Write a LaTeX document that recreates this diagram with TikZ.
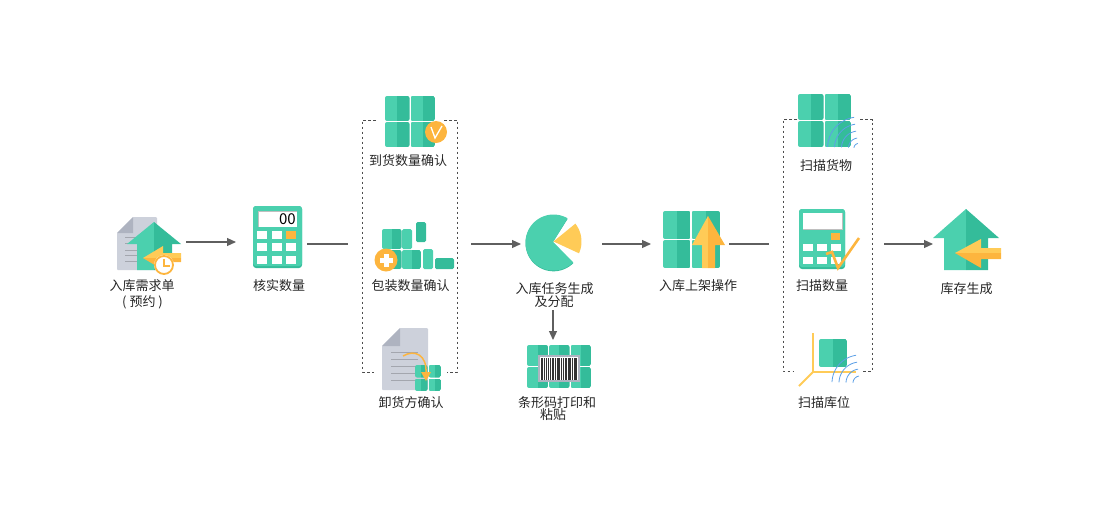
\documentclass[tikz,border=0pt]{standalone}
\usepackage{fontspec}
\setmainfont{Noto Sans CJK SC}
\usetikzlibrary{arrows.meta}
\definecolor{gl}{HTML}{4BD0AE}
\definecolor{gd}{HTML}{34BC9A}
\definecolor{yl}{HTML}{FFCB57}
\definecolor{yd}{HTML}{FDB53E}
\definecolor{docg}{HTML}{CDD1DB}
\definecolor{foldg}{HTML}{AEB3C0}
\definecolor{lineg}{HTML}{A3A6AE}
\definecolor{wave}{HTML}{5C9FE6}
\definecolor{txt}{HTML}{262626}
\definecolor{cline}{HTML}{5F5F5F}
\tikzset{
  lab/.style={font=\fontsize{13}{13}\selectfont,text=txt,inner sep=0pt},
  conn/.style={draw=cline,line width=1.2pt},
  arr/.style={conn,-{Triangle[length=9pt,width=8pt]}},
  dashbox/.style={draw=black!70,line width=0.9pt,dash pattern=on 2.6pt off 2.4pt},
  wv/.style={draw=wave,line width=0.8pt},
  dl/.style={draw=lineg,line width=1pt},
}
\newcommand{\tcell}[4]{%
  \begin{scope}
    \clip[rounded corners=2pt] (#1,#2) rectangle (#3,#4);
    \fill[gl] (#1,#2) rectangle ({(#1+#3)/2},#4);
    \fill[gd] ({(#1+#3)/2},#2) rectangle (#3,#4);
  \end{scope}}
\newcommand{\waves}[5]{% cx cy angle-from angle-to list
  \foreach \rr in {#5}{\draw[wv] plot[domain=#3:#4,samples=16,smooth] ({#1+\rr*cos(\x)},{#2+\rr*sin(\x)});}}
\begin{document}
\begin{tikzpicture}[x=1pt,y=-1pt]
\useasboundingbox (0,0) rectangle (1112,515);
% ---- request icon
\fill[docg,rounded corners=1pt] (133,217)--(157,217)--(157,270)--(117,270)--(117,233)--cycle;
\fill[foldg] (117,233)--(133,217)--(133,233)--cycle;
\foreach \yy in {237,243,250,255,261}{\draw[dl] (125,\yy)--(138,\yy);}
\fill[gl] (154,222)--(127,244)--(137,244)--(137,270)--(154,270)--cycle;
\fill[gd] (154,222)--(181,244)--(172,244)--(172,270)--(154,270)--cycle;
\fill[yl] (143,258)--(163,246)--(163,253)--(181,253)--(181,258)--cycle;
\fill[yd] (143,258)--(163,270)--(163,262)--(181,262)--(181,258)--cycle;
\fill[white] (164,265) circle (10);
\draw[yd,line width=1.8pt] (164,265) circle (9);
\draw[yd,line width=1.2pt] (164,259)--(164,266)--(170,266);
% ---- calculator
\fill[gd,rounded corners=3pt] (253,206) rectangle (302,268);
\fill[gl,rounded corners=3pt] (253,206) rectangle (302,266);
\fill[white] (258,211) rectangle (297,227);
\draw[black!25,line width=0.8pt] (258,227)--(258,211)--(297,211);
\node[anchor=east,inner sep=0pt,font=\fontsize{15}{15}\selectfont\rmfamily] (calcnum) at (296,219) {00};
\foreach \cx in {257,272,286}{\foreach \cy in {231,243,256}{\fill[white] (\cx,\cy) rectangle ++(10,7.5);}}
\fill[yd] (286,231) rectangle ++(10,7.5);
% ---- arrival
\tcell{385}{96}{409.5}{121}\tcell{410.5}{96}{435}{121}
\tcell{385}{122}{409.5}{147}\tcell{410.5}{122}{435}{147}
\fill[yd] (436,132) circle (11);
\draw[white,line width=1.3pt] (431,127)--(435,138)--(442,126);
% ---- packing
\tcell{382}{229}{401.5}{249}
\fill[gl,rounded corners=1.5pt] (402,229) rectangle (412,249);
\fill[gd,rounded corners=1.5pt] (416,222) rectangle (426,242);
\tcell{382}{250}{401.5}{269}\tcell{402}{250}{421}{269}
\fill[gl,rounded corners=1.5pt] (423,249) rectangle (433,269);
\fill[gd,rounded corners=1.5pt] (435,258) rectangle (454,269);
\fill[yd] (386,260) circle (11.5);
\fill[white] (383.5,253.5) rectangle (388.5,266.5);
\fill[white] (379.5,257.5) rectangle (392.5,262.5);
% ---- unloader
\fill[docg,rounded corners=1pt] (400,328)--(428,328)--(428,390)--(382,390)--(382,346)--cycle;
\fill[foldg] (382,346)--(400,328)--(400,346)--cycle;
\foreach \yy in {352,359,366,373,380}{\draw[dl] (391,\yy)--(418,\yy);}
\tcell{415}{365}{427.5}{377.5}\tcell{428.5}{365}{441}{377.5}
\tcell{415}{378.5}{427.5}{391}\tcell{428.5}{378.5}{441}{391}
\draw[yd,line width=1.5pt] (403,356) .. controls (415,349) and (427,355) .. (426,373);
\fill[yd] (421,372)--(431,372)--(426,381)--cycle;
% ---- pie
\fill[gd] (553,242) -- plot[domain=-315:-60,samples=50] ({553.5+28*cos(\x)},{243.3+28*sin(\x)}) -- cycle;
\fill[gl] (553,242) -- plot[domain=-315:-60,samples=50] ({553.5+28*cos(\x)},{242.5+28*sin(\x)}) -- cycle;
\fill[yl] (553.5,241.5) -- plot[domain=-38:24,samples=20] ({552.5+29*cos(\x)},{241.5+29*sin(\x)}) -- cycle;
% ---- barcode
\foreach \xa/\xb in {527/548,549/569.5,570.5/591}{
  \tcell{\xa}{345}{\xb}{366}\tcell{\xa}{367}{\xb}{388}}
\fill[foldg] (538,355) rectangle (580,382);
\fill[white] (540,357) rectangle (578,380);
\foreach \bx/\bw in {541/2.4,544/1,545.5/1.8,548/1.2,550/0.8,551.5/2.4,554.5/1.2,556.5/1,558/2.2,561/1,562.5/1.5,564.5/2.4,567.5/1,569/1.9,571.5/1.3,573.5/2.2,576/1}{
  \fill[black!80] (\bx,358) rectangle ++(\bw,22);}
% ---- shelving
\tcell{663}{211}{690.5}{239}\tcell{691.5}{211}{720}{239}
\tcell{663}{240}{690.5}{268}\tcell{691.5}{240}{720}{268}
\fill[yl] (708,216)--(692,245)--(702,245)--(702,268)--(708,268)--cycle;
\fill[yd] (708,216)--(725,245)--(715,245)--(715,268)--(708,268)--cycle;
% ---- scan goods
\tcell{798}{94}{823.5}{120}\tcell{824.5}{94}{851}{120}
\tcell{798}{121}{823.5}{147}\tcell{824.5}{121}{851}{147}
\waves{858.5}{148}{182}{262}{31,24,17,10,4.5}
% ---- scan quantity
\fill[gd,rounded corners=3pt] (799,209) rectangle (845,269);
\fill[gl,rounded corners=3pt] (799,209) rectangle (845,267);
\fill[white] (803,213) rectangle (842,229);
\draw[black!25,line width=0.8pt] (803,229)--(842,229)--(842,213);
\fill[yd] (831,233) rectangle (840,240);
\foreach \cx in {803,817,831}{\foreach \cy in {244,257}{\fill[white] (\cx,\cy) rectangle ++(10,7);}}
\draw[yd,line width=2.6pt,miter limit=10] (826,254)--(832,252)--(838,268)--(859,238);
% ---- scan location
\draw[yl,line width=1.8pt] (813,333)--(813,372)--(856,372);
\draw[yl,line width=1.8pt] (813,372)--(799,386);
\tcell{819}{339}{847}{367}
\waves{860}{383}{182}{262}{28,21,14,7}
% ---- stock
\fill[gl] (966,209)--(933,238)--(944,238)--(944,270)--(966,270)--cycle;
\fill[gd] (966,209)--(999,238)--(988,238)--(988,270)--(966,270)--cycle;
\fill[yl] (955,253)--(981,239)--(981,248)--(1001,248)--(1001,253)--cycle;
\fill[yd] (955,253)--(981,268)--(981,259)--(1001,259)--(1001,253)--cycle;
% ---- brackets
\draw[dashbox] (376,120)--(362.5,120)--(362.5,372)--(374,372);
\draw[dashbox] (444,120)--(457.5,120)--(457.5,372)--(447,372);
\draw[dashbox] (797,119.5)--(783,119.5)--(783,371)--(794,371);
\draw[dashbox] (860,119.5)--(872,119.5)--(872,371)--(862,371);
% ---- labels
\node[lab] (l1a) at (142,286) {入库需求单};
\node[lab] (l1b) at (142.5,302) {( 预约 )};
\node[lab] (l2) at (279,286) {核实数量};
\node[lab] (l3a) at (408,161) {到货数量确认};
\node[lab] (l3b) at (410.5,286) {包装数量确认};
\node[lab] (l3c) at (411,403) {卸货方确认};
\node[lab] (l4a) at (554.5,289) {入库任务生成};
\node[lab] (l4b) at (554,302) {及分配};
\node[lab] (l5a) at (557,403) {条形码打印和};
\node[lab] (l5b) at (553,415) {粘贴};
\node[lab] (l6) at (698,286) {入库上架操作};
\node[lab] (l7a) at (826,166) {扫描货物};
\node[lab] (l7b) at (822,286) {扫描数量};
\node[lab] (l7c) at (824,403) {扫描库位};
\node[lab] (l8) at (966.5,289) {库存生成};
% ---- connectors
\coordinate (reqOut) at (186,242); \coordinate (calcIn) at (236,242);
\coordinate (calcOut) at (307,244); \coordinate (brAIn) at (348,244);
\coordinate (brAOut) at (471,244); \coordinate (pieIn) at (521,244);
\coordinate (pieOut) at (602,244); \coordinate (shelfIn) at (651,244);
\coordinate (shelfOut) at (729,244); \coordinate (brBIn) at (769,244);
\coordinate (brBOut) at (884,244); \coordinate (stockIn) at (933,244);
\coordinate (codeOut) at (553,310); \coordinate (codeIn) at (553,340);
\draw[arr] (reqOut)--(calcIn);
\draw[conn] (calcOut)--(brAIn);
\draw[arr] (brAOut)--(pieIn);
\draw[arr] (pieOut)--(shelfIn);
\draw[conn] (shelfOut)--(brBIn);
\draw[arr] (brBOut)--(stockIn);
\draw[arr] (codeOut)--(codeIn);
\end{tikzpicture}
\end{document}
